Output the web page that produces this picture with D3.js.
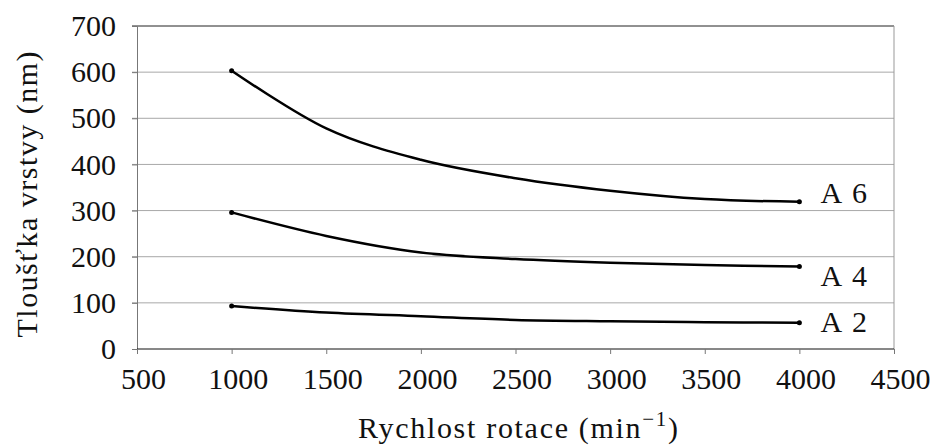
<!DOCTYPE html>
<html>
<head>
<meta charset="utf-8">
<script src="https://cdn.jsdelivr.net/npm/d3@7"></script>
<style>
  body { margin: 0; background: #fff; }
  svg text { font-family: "Liberation Serif", "Times New Roman", serif; }
</style>
</head>
<body>
<div id="chart"></div>
<script>
const speeds = [1000, 1500, 2000, 2500, 3000, 3500, 4000];
const a6 = [603, 478, 410, 370, 343, 325, 319];
const a4 = [296, 245, 209, 195, 187, 182, 179];
const a2 = [93, 79, 71, 63, 60, 58, 57];
const seriesNames = ["A", "A", "A"];
const seriesNums = ["6", "4", "2"];
const xTicks = [500, 1000, 1500, 2000, 2500, 3000, 3500, 4000, 4500];
const yTicks = [0, 100, 200, 300, 400, 500, 600, 700];

const W = 932, H = 445;
const margin = { top: 26, right: 38, bottom: 96, left: 137 };
const FONT = "Liberation Serif";
const FS = 30;

const svg = d3.select("#chart").append("svg")
    .attr("width", W)
    .attr("height", H);

const x = d3.scaleLinear().domain([500, 4500]).range([margin.left, W - margin.right]);
const y = d3.scaleLinear().domain([0, 700]).range([H - margin.bottom, margin.top]);

// gridlines
svg.append("g")
    .selectAll("line")
    .data(yTicks.filter(d => d > 0 && d < 700))
    .join("line")
    .attr("x1", x(500) - 5)
    .attr("x2", x(4500))
    .attr("y1", d => y(d))
    .attr("y2", d => y(d))
    .attr("stroke", "#a8a8a8")
    .attr("stroke-width", 1);

// frame: top + right
svg.append("line")
    .attr("x1", x(500) - 5).attr("x2", x(4500))
    .attr("y1", y(700)).attr("y2", y(700))
    .attr("stroke", "#222");
svg.append("line")
    .attr("x1", x(4500)).attr("x2", x(4500))
    .attr("y1", y(700)).attr("y2", y(0))
    .attr("stroke", "#999");

// y axis
const yAxis = svg.append("g")
    .attr("transform", "translate(" + x(500) + ",0)")
    .call(d3.axisLeft(y).tickValues(yTicks).tickSize(5).tickPadding(16));
yAxis.attr("font-family", null).attr("font-size", null);
yAxis.select(".domain").attr("stroke", "#777");
yAxis.selectAll(".tick line").attr("stroke", "#777");
yAxis.selectAll("text").attr("fill", "#111")
    .style("font-family", FONT).style("font-size", FS + "px");

// x axis
const xAxis = svg.append("g")
    .attr("transform", "translate(0," + y(0) + ")")
    .call(d3.axisBottom(x).tickValues(xTicks).tickSize(5).tickPadding(14).tickFormat(d3.format("d")));
xAxis.attr("font-family", null).attr("font-size", null);
xAxis.select(".domain").attr("stroke", "#111").attr("d", "M" + x(500) + ",0H" + x(4500));
xAxis.selectAll(".tick line").attr("stroke", "#777");
xAxis.selectAll("text").attr("fill", "#111").attr("dx", 6)
    .style("font-family", FONT).style("font-size", FS + "px");

// lines
const allSeries = [a6, a4, a2];
const line = d3.line()
    .x((d, i) => x(speeds[i]))
    .y(d => y(d))
    .curve(d3.curveCardinal.tension(0));

allSeries.forEach((vals, k) => {
    svg.append("path")
        .datum(vals)
        .attr("d", line)
        .attr("fill", "none")
        .attr("stroke", "#000")
        .attr("stroke-width", 2.5);
    [0, vals.length - 1].forEach(i => {
        svg.append("circle")
            .attr("cx", x(speeds[i]))
            .attr("cy", y(vals[i]))
            .attr("r", 2.5)
            .attr("fill", "#000");
    });
});

// series labels (baseline offsets from the end point)
const labelDy = [1, 20, 9];
seriesNames.forEach((name, k) => {
    const vals = allSeries[k];
    const t = svg.append("text")
        .attr("x", x(4000) + 21)
        .attr("y", y(vals[vals.length - 1]) + labelDy[k])
        .style("font-family", FONT)
        .style("font-size", FS + "px")
        .attr("fill", "#111");
    t.append("tspan").text(name);
    t.append("tspan").attr("dx", 10).text(seriesNums[k]);
});

// axis titles
svg.append("text")
    .attr("transform", "translate(37," + ((y(0) + y(700)) / 2 + 7) + ") rotate(-90)")
    .attr("text-anchor", "middle")
    .attr("textLength", 286)
    .attr("lengthAdjust", "spacing")
    .style("font-family", FONT)
    .style("font-size", FS + "px")
    .attr("fill", "#111")
    .text("Tloušťka vrstvy (nm)");

const xt = svg.append("text")
    .attr("x", 518)
    .attr("y", 438)
    .attr("text-anchor", "middle")
    .attr("textLength", 320)
    .attr("lengthAdjust", "spacing")
    .style("font-family", FONT)
    .style("font-size", FS + "px")
    .attr("fill", "#111");
xt.append("tspan").text("Rychlost rotace (min");
xt.append("tspan").attr("dy", -12).style("font-size", "21px").text("−1");
xt.append("tspan").attr("dy", 12).text(")");
</script>
</body>
</html>
